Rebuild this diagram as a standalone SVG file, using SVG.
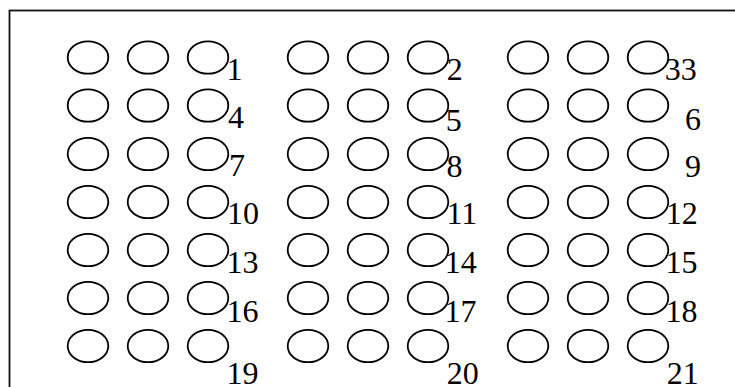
<svg xmlns="http://www.w3.org/2000/svg" width="735" height="387" viewBox="0 0 735 387">
<style>
.o{fill:none;stroke:#000;stroke-width:1.8}
.b{fill:none;stroke:#111;stroke-width:1.8}
.t{font-family:"Liberation Serif","Times New Roman",serif;font-size:32px;fill:#000}
</style>
<defs>
<g id="tri"><ellipse class="o" cx="0" cy="0" rx="20.3" ry="16.2"/><ellipse class="o" cx="60" cy="0" rx="20.3" ry="16.2"/><ellipse class="o" cx="120" cy="0" rx="20.3" ry="16.2"/></g>
</defs>
<rect class="b" x="9.5" y="10.5" width="800" height="400"/>
<g id="connectors"></g>
<g id="n1"><use href="#tri" x="88" y="57.5"/><text class="t" x="226.4" y="80">1</text></g>
<g id="n2"><use href="#tri" x="308" y="57.5"/><text class="t" x="446.7" y="80">2</text></g>
<g id="n33"><use href="#tri" x="528" y="57.5"/><text class="t" x="664.8" y="80">33</text></g>
<g id="n4"><use href="#tri" x="88" y="105.5"/><text class="t" x="228" y="127.5">4</text></g>
<g id="n5"><use href="#tri" x="308" y="105.5"/><text class="t" x="445.7" y="131">5</text></g>
<g id="n6"><use href="#tri" x="528" y="105.5"/><text class="t" x="685" y="130">6</text></g>
<g id="n7"><use href="#tri" x="88" y="154"/><text class="t" x="229" y="176">7</text></g>
<g id="n8"><use href="#tri" x="308" y="154"/><text class="t" x="446.4" y="176.5">8</text></g>
<g id="n9"><use href="#tri" x="528" y="154"/><text class="t" x="685" y="176.5">9</text></g>
<g id="n10"><use href="#tri" x="88" y="202"/><text class="t" x="227" y="224">10</text></g>
<g id="n11"><use href="#tri" x="308" y="202"/><text class="t" x="446.4" y="223.5">11</text></g>
<g id="n12"><use href="#tri" x="528" y="202"/><text class="t" x="665.7" y="223.5">12</text></g>
<g id="n13"><use href="#tri" x="88" y="250"/><text class="t" x="226.4" y="273.3">13</text></g>
<g id="n14"><use href="#tri" x="308" y="250"/><text class="t" x="444.7" y="273.3">14</text></g>
<g id="n15"><use href="#tri" x="528" y="250"/><text class="t" x="665.4" y="273.3">15</text></g>
<g id="n16"><use href="#tri" x="88" y="298"/><text class="t" x="226.4" y="321.7">16</text></g>
<g id="n17"><use href="#tri" x="308" y="298"/><text class="t" x="444.4" y="321.7">17</text></g>
<g id="n18"><use href="#tri" x="528" y="298"/><text class="t" x="665.4" y="321.7">18</text></g>
<g id="n19"><use href="#tri" x="88" y="346"/><text class="t" x="226.4" y="384">19</text></g>
<g id="n20"><use href="#tri" x="308" y="346"/><text class="t" x="446.7" y="384">20</text></g>
<g id="n21"><use href="#tri" x="528" y="346"/><text class="t" x="666.7" y="384">21</text></g>
</svg>
